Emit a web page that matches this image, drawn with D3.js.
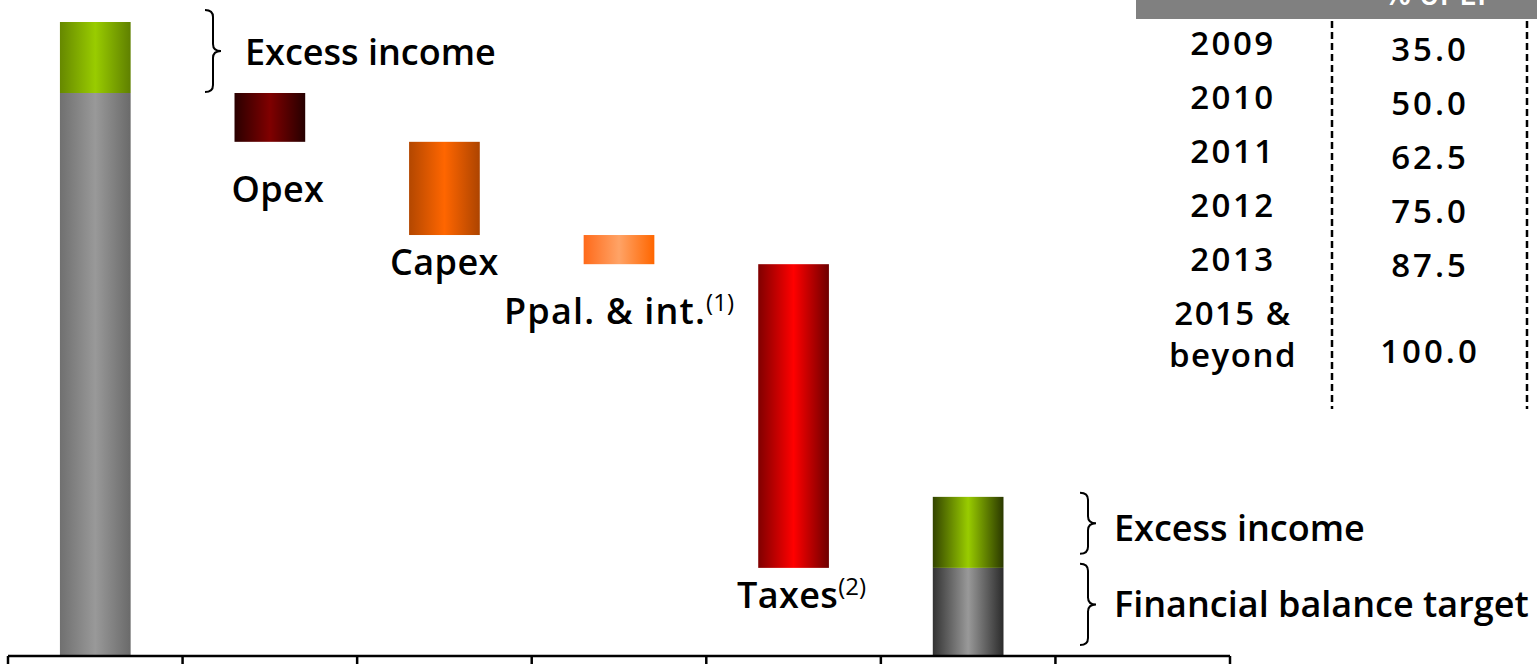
<!DOCTYPE html>
<html>
<head>
<meta charset="utf-8">
<script src="https://cdn.jsdelivr.net/npm/d3@7"></script>
<style>
  html, body { margin: 0; padding: 0; background: #ffffff; }
  svg { display: block; }
  text { font-family: "Open Sans", "Noto Sans", sans-serif; font-weight: 600; fill: #000; }
</style>
</head>
<body>
<svg id="chart" width="1537" height="664"></svg>
<script>
// ---- Data ----------------------------------------------------------------
const categories = ["income", "opex", "capex", "debt", "taxes", "balance", "rest"];

// Starting income, split into the part that funds spending and the surplus
const baseIncome = 88.8;
const excessIncome = 11.2;

// Deductions walked down from the base income
const deductionLabels = ["Opex", "Capex", "Ppal. & int.", "Taxes"];
const deductionNotes = ["", "", "(1)", "(2)"];
const deductionValues = [7.7, 14.7, 4.6, 47.9];

// Side table: year and share
const tableYears = ["2009", "2010", "2011", "2012", "2013", "2015 &|beyond"];
const tableShares = [35.0, 50.0, 62.5, 75.0, 87.5, 100.0];
const tableHeader = "% of EP";

// ---- Scales ----------------------------------------------------------------
const svg = d3.select("#chart");
const x = d3.scaleBand().domain(categories).range([8, 1230]).padding(0);
const y = d3.scaleLinear().domain([0, 100]).range([656, 22]);
const barW = x.bandwidth() * 0.405;
const barX = c => x(c) + (x.bandwidth() - barW) / 2;

// ---- Gradients -------------------------------------------------------------
const defs = svg.append("defs");
const grads = {
  incomeGray:   ["#707070", "#999999", "#6a6a6a"],
  incomeGreen:  ["#668800", "#99cc00", "#5f8000"],
  opex:         ["#2a0000", "#800000", "#260000"],
  capex:        ["#b34700", "#ff6600", "#ad4400"],
  debt:         ["#ff6a1a", "#ffa366", "#ff6600"],
  taxes:        ["#800000", "#ff0000", "#6e0000"],
  balanceGray:  ["#333333", "#999999", "#2b2b2b"],
  balanceGreen: ["#334400", "#99cc00", "#2a3800"]
};
Object.entries(grads).forEach(([id, c]) => {
  const g = defs.append("linearGradient").attr("id", id)
    .attr("x1", "0").attr("x2", "1").attr("y1", "0").attr("y2", "0");
  g.append("stop").attr("offset", "0").attr("stop-color", c[0]);
  g.append("stop").attr("offset", "0.5").attr("stop-color", c[1]);
  g.append("stop").attr("offset", "1").attr("stop-color", c[2]);
});

// ---- Bars --------------------------------------------------------------------
const segs = [];
segs.push({ cat: "income", y0: 0, y1: baseIncome, fill: "incomeGray" });
segs.push({ cat: "income", y0: baseIncome, y1: baseIncome + excessIncome, fill: "incomeGreen" });

let level = baseIncome;
const deductionCats = ["opex", "capex", "debt", "taxes"];
const deductionBars = deductionValues.map((v, i) => {
  const top = level, bottom = level - v;
  level = bottom;
  segs.push({ cat: deductionCats[i], y0: bottom, y1: top, fill: deductionCats[i] });
  return { cat: deductionCats[i], bottom, label: deductionLabels[i], note: deductionNotes[i] };
});
const balanceTarget = level;
segs.push({ cat: "balance", y0: 0, y1: balanceTarget, fill: "balanceGray" });
segs.push({ cat: "balance", y0: balanceTarget, y1: balanceTarget + excessIncome, fill: "balanceGreen" });

svg.append("g").selectAll("rect").data(segs).join("rect")
  .attr("x", d => barX(d.cat))
  .attr("width", barW)
  .attr("y", d => y(d.y1))
  .attr("height", d => y(d.y0) - y(d.y1))
  .attr("fill", d => `url(#${d.fill})`);

// ---- Deduction labels ---------------------------------------------------------
// Labels alternate between a deep and a shallow drop below each bar
const lbl = svg.append("g").selectAll("text").data(deductionBars).join("text")
  .attr("x", (d, i) => x(d.cat) + x.bandwidth() / 2 + (i === 0 || i === 3 ? 8 : 0))
  .attr("y", (d, i) => y(d.bottom) + (i % 2 === 0 ? 60 : 40))
  .attr("text-anchor", "middle")
  .style("font-size", "36px");
lbl.append("tspan").style("letter-spacing", (d, i) => i === 2 ? "1.2px" : "0.4px").text(d => d.label);
lbl.append("tspan").attr("dy", "-13").style("font-size", "24px").style("font-weight", 400)
  .text(d => d.note);

// ---- Axis --------------------------------------------------------------------
const axis = svg.append("g");
axis.append("line")
  .attr("x1", x.range()[0]).attr("x2", x.range()[1])
  .attr("y1", y(0)).attr("y2", y(0))
  .attr("stroke", "#000").attr("stroke-width", 2.5);
const edges = categories.map(c => x(c)).concat([x.range()[1]]);
axis.selectAll("line.tick").data(edges).join("line").attr("class", "tick")
  .attr("x1", d => d).attr("x2", d => d)
  .attr("y1", y(0)).attr("y2", 664)
  .attr("stroke", "#000").attr("stroke-width", 2.5);

// ---- Braces with annotations ---------------------------------------------------
function bracePath(x0, y0, y1, w) {
  const xm = x0 + w * 0.5, ym = (y0 + y1) / 2, r = 7;
  return `M${x0},${y0} Q${xm},${y0} ${xm},${y0 + r} L${xm},${ym - r} Q${xm},${ym} ${x0 + w},${ym}` +
         ` Q${xm},${ym} ${xm},${ym + r} L${xm},${y1 - r} Q${xm},${y1} ${x0},${y1}`;
}
const braces = [
  { x: 205, y0: y(baseIncome + excessIncome) - 12, y1: y(baseIncome) - 1, text: "Excess income", tx: 245, ty: 65 },
  { x: 1080, y0: y(balanceTarget + excessIncome) - 4, y1: y(balanceTarget) - 14, text: "Excess income", tx: 1114, ty: 541 },
  { x: 1080, y0: y(balanceTarget) - 4, y1: y(0) - 11, text: "Financial balance target", tx: 1114, ty: 617 }
];
const bg = svg.append("g");
bg.selectAll("path").data(braces).join("path")
  .attr("d", d => bracePath(d.x, d.y0, d.y1, 16))
  .attr("fill", "none").attr("stroke", "#000").attr("stroke-width", 2);
bg.selectAll("text").data(braces).join("text")
  .attr("x", d => d.tx).attr("y", d => d.ty)
  .style("font-size", "36px")
  .text(d => d.text);

// ---- Side table ------------------------------------------------------------------
const tbl = svg.append("g");
tbl.append("rect").attr("x", 1136).attr("y", 0).attr("width", 401).attr("height", 19).attr("fill", "#808080");
tbl.append("text").attr("x", 1440).attr("y", 5).attr("text-anchor", "middle")
  .style("font-size", "32px").style("fill", "#ffffff").text(tableHeader);
[1332, 1527].forEach(xx => {
  tbl.append("line").attr("x1", xx).attr("x2", xx).attr("y1", 21).attr("y2", 409)
    .attr("stroke", "#000").attr("stroke-width", 2.5).attr("stroke-dasharray", "7,4");
});
const rowY = d3.scaleLinear().domain([0, 1]).range([55, 109]);
const rows = tbl.selectAll("g.row").data(tableYears.map((yr, i) => ({ yr, v: tableShares[i], i })))
  .join("g").attr("class", "row");
rows.each(function (d) {
  const g = d3.select(this);
  const parts = d.yr.split("|");
  if (parts.length === 1) {
    g.append("text").attr("x", 1233).attr("y", rowY(d.i)).attr("text-anchor", "middle")
      .style("font-size", "33px").style("letter-spacing", "2.5px").text(parts[0]);
    g.append("text").attr("x", 1430).attr("y", rowY(d.i) + 6).attr("text-anchor", "middle")
      .style("font-size", "33px").style("letter-spacing", "3px").text(d3.format(".1f")(d.v));
  } else {
    const t = g.append("text").attr("text-anchor", "middle").style("font-size", "33px").style("letter-spacing", "1.5px");
    t.append("tspan").attr("x", 1233).attr("y", rowY(d.i)).text(parts[0]);
    t.append("tspan").attr("x", 1233).attr("dy", 42).text(parts[1]);
    g.append("text").attr("x", 1430).attr("y", rowY(d.i) + 38).attr("text-anchor", "middle")
      .style("font-size", "33px").style("letter-spacing", "3px").text(d3.format(".1f")(d.v));
  }
});
</script>
</body>
</html>
